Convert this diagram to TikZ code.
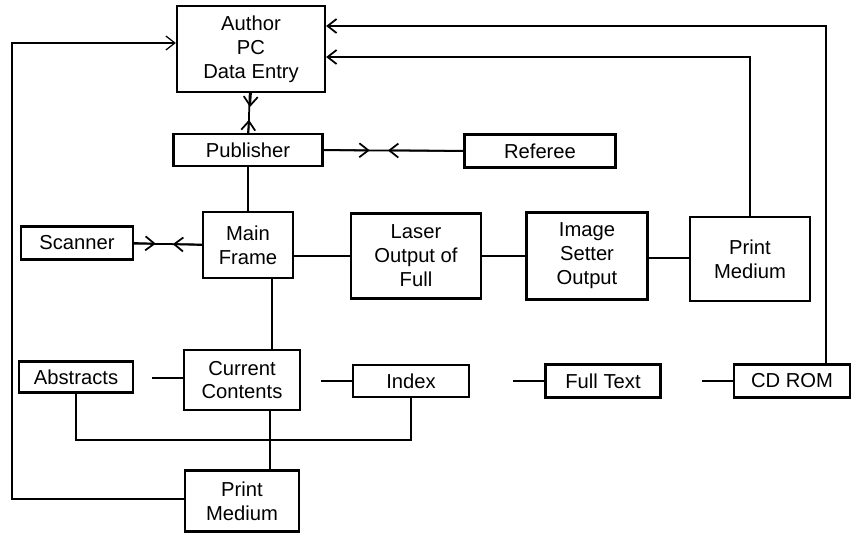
\documentclass[tikz,border=0pt]{standalone}
\usepackage{fontspec}
\setmainfont{Liberation Sans}
\usetikzlibrary{arrows.meta, positioning, calc}

\begin{document}
\begin{tikzpicture}[x=0.02cm, y=-0.02cm,
    blk/.style={draw, line width=1.3pt, align=center, inner sep=0pt,
      font=\fontsize{11.5}{13.6}\selectfont},
    link/.style={line width=1pt},
    arr/.style={link, -{Straight Barb[length=1.8mm, width=2.8mm]}}]
  \useasboundingbox (0,0) rectangle (857,535);

  \node[blk, minimum width=2.96cm, minimum height=1.72cm] (author) at (251,49) {Author\\PC\\Data Entry};
  \node[blk, minimum width=2.98cm, minimum height=0.64cm] (pub) at (248,150) {Publisher};
  \node[blk, minimum width=3.02cm, minimum height=0.66cm] (ref) at (540,151) {Referee};
  \node[blk, minimum width=1.80cm, minimum height=1.32cm] (main) at (248,245) {Main\\Frame};
  \node[blk, minimum width=2.24cm, minimum height=0.66cm] (scan) at (77,243) {Scanner};
  \node[blk, minimum width=2.60cm, minimum height=1.70cm] (laser) at (416,256) {Laser\\Output of\\Full};
  \node[blk, minimum width=2.42cm, minimum height=1.74cm] (imgset) at (587,256) {Image\\Setter\\Output};
  \node[blk, minimum width=2.40cm, minimum height=1.68cm] (prt) at (750,259) {Print\\Medium};
  \node[blk, minimum width=2.28cm, minimum height=0.62cm] (abs) at (76,377) {Abstracts};
  \node[blk, minimum width=2.32cm, minimum height=1.20cm] (cc) at (242,380) {Current\\Contents};
  \node[blk, minimum width=2.32cm, minimum height=0.64cm] (idx) at (411,381) {Index};
  \node[blk, minimum width=2.30cm, minimum height=0.66cm] (ftext) at (603,381) {Full Text};
  \node[blk, minimum width=2.32cm, minimum height=0.66cm] (cdrom) at (792,381) {CD ROM};
  \node[blk, minimum width=2.28cm, minimum height=1.22cm] (prt2) at (242,501) {Print\\Medium};

  % two-way links, tips meeting in the middle
  \draw[link] (author) -- (pub);
  \draw[arr] (author.south) -- ($(author.south)!0.35!(pub.north)$);
  \draw[arr] (pub.north) -- ($(pub.north)!0.33!(author.south)$);
  \draw[link] (pub) -- (ref);
  \draw[arr] (pub.east) -- ($(pub.east)!0.33!(ref.west)$);
  \draw[arr] (ref.west) -- ($(ref.west)!0.54!(pub.east)$);
  \draw[link] (scan) -- (main);
  \draw[arr] (scan.east) -- ($(scan.east)!0.32!(main.west)$);
  \draw[arr] (main.west) -- ($(main.west)!0.43!(scan.east)$);

  \draw[link] (pub) -- (main);
  \draw[link] (main.east |- 0,256) -- (laser.west |- 0,256);
  \draw[link] (laser.east |- 0,256) -- (imgset.west |- 0,256);
  \draw[link] (imgset.east |- 0,258) -- (prt.west |- 0,258);
  \draw[arr] (prt.north) |- (author.east |- 0,57);
  \draw[arr] (cdrom.north -| 826,0) |- (author.east |- 0,26);

  \draw[link] (main.south -| 272,0) -- (cc.north -| 272,0);
  \draw[link] (cc.west |- 0,378) -- ++(-31,0);
  \draw[link] (idx.west) -- ++(-31,0);
  \draw[link] (ftext.west) -- ++(-31,0);
  \draw[link] (cdrom.west) -- ++(-31,0);
  \draw[link] (abs.south) -- (abs.south |- 0,440) -| (idx.south);
  \draw[link] (cc.south -| 270,0) -- (prt2.north -| 270,0);
  \draw[arr, line width=0.7pt] (prt2.west |- 0,499) -| (12,43) -- (author.west |- 0,43);
\end{tikzpicture}
\end{document}
